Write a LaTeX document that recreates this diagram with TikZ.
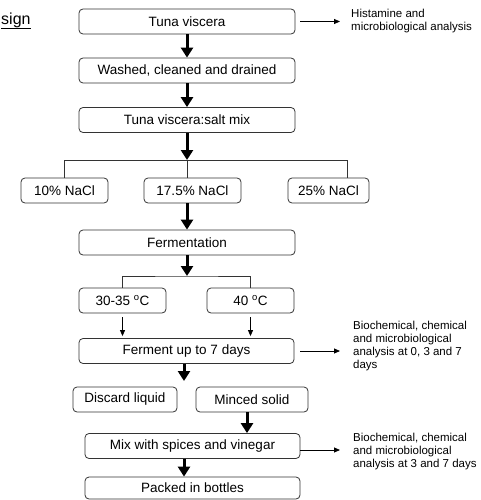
\documentclass[tikz,border=0pt]{standalone}
\usepackage{fontspec}
\setmainfont{Liberation Sans}
\usetikzlibrary{arrows.meta}
\begin{document}
\begin{tikzpicture}[x=1pt,y=-1pt,
 box/.style={draw=black!80,line width=0.8pt,rounded corners=4pt,minimum height=25pt,inner sep=0pt,font=\fontsize{13.5}{16}\selectfont},
 note/.style={anchor=west,inner sep=0pt,align=left,font=\fontsize{11.5}{13}\selectfont},
 bigarrow/.style={line width=3pt,-{Triangle[width=12pt,length=10pt]}},
 smallarrow/.style={line width=0.8pt,-{Triangle[width=5pt,length=6pt]}},
 link/.style={line width=0.8pt,draw=black!80}]
 \useasboundingbox (0,0) rectangle (481,500);
 \node[anchor=base west,inner sep=0pt,font=\fontsize{16}{18}\selectfont] (title) at (1,25) {sign};
 \draw[line width=0.8pt] ([yshift=-3pt]title.base west) -- ([yshift=-3pt]title.base east);
 \node[box,minimum width=216pt] (tv) at (187,21.5) {Tuna viscera};
 \node[box,minimum width=216pt] (wash) at (187,70.5) {Washed, cleaned and drained};
 \node[box,minimum width=216pt] (salt) at (187,120) {Tuna viscera:salt mix};
 \node[box,minimum width=87pt] (n10) at (64.5,190.5) {10\% NaCl};
 \node[box,minimum width=97pt] (n175) at (192.5,190.5) {17.5\% NaCl};
 \node[box,minimum width=81pt] (n25) at (328.5,190.5) {25\% NaCl};
 \node[box,minimum width=216pt] (ferm) at (187,242.5) {Fermentation};
 \node[box,minimum width=87pt] (t30) at (122.5,300.5) {30-35 \textsuperscript{o}C};
 \node[box,minimum width=87pt] (t40) at (250.5,300.5) {40 \textsuperscript{o}C};
 \node[box,minimum width=215pt] (ferm7) at (186.5,351) {Ferment up to 7 days};
 \node[box,minimum width=104pt] (disc) at (125,399.5) {Discard liquid};
 \node[box,minimum width=112pt] (minced) at (252,399.5) {Minced solid};
 \node[box,minimum width=215pt] (spice) at (192.5,446) {Mix with spices and vinegar};
 \node[box,minimum width=215pt,minimum height=22pt] (packed) at (192.5,488) {Packed in bottles};
 \node[note] (hist) at (351,13) {Histamine and};
 \node[note] (micro) at (351,28) {microbiological analysis};
 \node[note] (bio1) at (353,346.5) {Biochemical, chemical\\and microbiological\\analysis at 0, 3 and 7\\days};
 \node[note] (bio2) at (353,452) {Biochemical, chemical\\and microbiological\\analysis at 3 and 7 days};
 \coordinate (j1) at (187,160); \coordinate (j25) at (347,160);
 \coordinate (j2) at (187,276); \coordinate (cut) at (184,381);
 \draw[bigarrow] (tv.south) -- (wash.north);
 \draw[bigarrow] (wash.south) -- (salt.north);
 \draw[bigarrow] (salt.south) -- (j1);
 \draw[link] (n10.north) |- (j25) -- (j25 |- n25.north);
 \draw[link] (j1) -- (j1 |- n175.north);
 \draw[bigarrow] (n175.south -| ferm.north) -- (ferm.north);
 \draw[bigarrow] (ferm.south) -- (j2);
 \draw[link] (t30.north) |- (j2) -| (t40.north);
 \draw[smallarrow,shorten <=4pt,shorten >=2pt] (t30.south) -- (t30.south |- ferm7.north);
 \draw[smallarrow,shorten <=4pt,shorten >=2pt] (t40.south) -- (t40.south |- ferm7.north);
 \draw[bigarrow] (ferm7.south -| cut) -- (cut);
 \draw[bigarrow] ([xshift=-5pt]minced.south) -- ([xshift=-5pt]minced.south |- spice.north);
 \draw[bigarrow] (spice.south -| cut) -- (packed.north -| cut);
 \draw[smallarrow,shorten <=5pt,shorten >=11pt] (tv.east) -- (tv.east -| hist.west);
 \draw[smallarrow,shorten <=6pt,shorten >=13pt] (ferm7.east) -- (ferm7.east -| bio1.west);
 \draw[smallarrow,shorten >=13pt] ([yshift=-4pt]spice.east) -- ([yshift=-4pt]spice.east -| bio2.west);
\end{tikzpicture}
\end{document}
